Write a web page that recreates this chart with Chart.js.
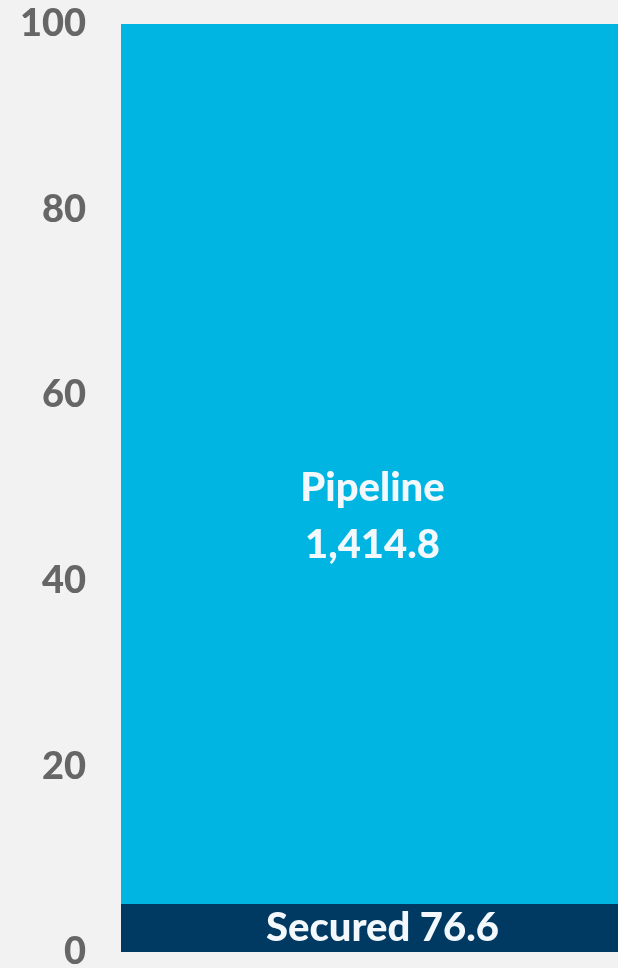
<!DOCTYPE html>
<html>
<head>
<meta charset="utf-8">
<script src="https://cdn.jsdelivr.net/npm/chart.js@4/dist/chart.umd.min.js"></script>
<style>
html,body{margin:0;padding:0;background:#f2f2f2;}
#wrap{width:618px;height:968px;position:relative;}
</style>
</head>
<body>
<div id="wrap"><canvas id="c" width="618" height="968"></canvas></div>
<script>
const categories = ["Total"];
const seriesNames = ["Secured", "Pipeline"];
const securedValues = [76.6];
const pipelineValues = [1414.8];
const yTicks = [0, 20, 40, 60, 80, 100];

const totals = categories.map((_, i) => securedValues[i] + pipelineValues[i]);
const securedPct = securedValues.map((v, i) => v / totals[i] * 100);
const pipelinePct = pipelineValues.map((v, i) => v / totals[i] * 100);
const fmt = v => v.toLocaleString('en-US', {minimumFractionDigits: 1, maximumFractionDigits: 1});

const labelPlugin = {
  id: 'segLabels',
  afterDatasetsDraw(chart) {
    const ctx = chart.ctx;
    ctx.save();
    ctx.fillStyle = '#f3f8fc';
    ctx.textAlign = 'center';
    ctx.textBaseline = 'middle';
    ctx.font = '900 40px Lato';
    const sEl = chart.getDatasetMeta(0).data[0];
    const pEl = chart.getDatasetMeta(1).data[0];
    const sMid = (sEl.y + sEl.base) / 2;
    ctx.fillText(seriesNames[0] + ' ' + fmt(securedValues[0]), sEl.x + 13, sMid);
    const pMid = (pEl.y + pEl.base) / 2;
    ctx.fillText(seriesNames[1], pEl.x + 3, pMid + 24);
    ctx.fillText(fmt(pipelineValues[0]), pEl.x + 3, pMid + 81);
    ctx.restore();
  }
};

new Chart(document.getElementById('c'), {
  type: 'bar',
  data: {
    labels: categories,
    datasets: [
      {label: seriesNames[0], data: securedPct, backgroundColor: '#003a63', categoryPercentage: 1, barPercentage: 1, borderWidth: 0},
      {label: seriesNames[1], data: pipelinePct, backgroundColor: '#00b5e2', categoryPercentage: 1, barPercentage: 1, borderWidth: 0}
    ]
  },
  options: {
    responsive: false,
    animation: false,
    layout: {padding: {top: 24, bottom: 16, right: 0, left: 0}},
    plugins: {legend: {display: false}, tooltip: {enabled: false}},
    scales: {
      x: {stacked: true, display: false},
      y: {
        stacked: true, min: 0, max: 100,
        afterBuildTicks(scale) { scale.ticks = yTicks.map(v => ({value: v})); },
        afterFit(scale) { scale.width = 121; scale.paddingTop = 0; scale.paddingBottom = 0; },
        grid: {display: false, drawTicks: false},
        border: {display: false},
        ticks: {padding: 35, color: '#666666', font: {family: 'Lato', weight: '900', size: 38}}
      }
    }
  },
  plugins: [labelPlugin]
});
</script>
</body>
</html>
